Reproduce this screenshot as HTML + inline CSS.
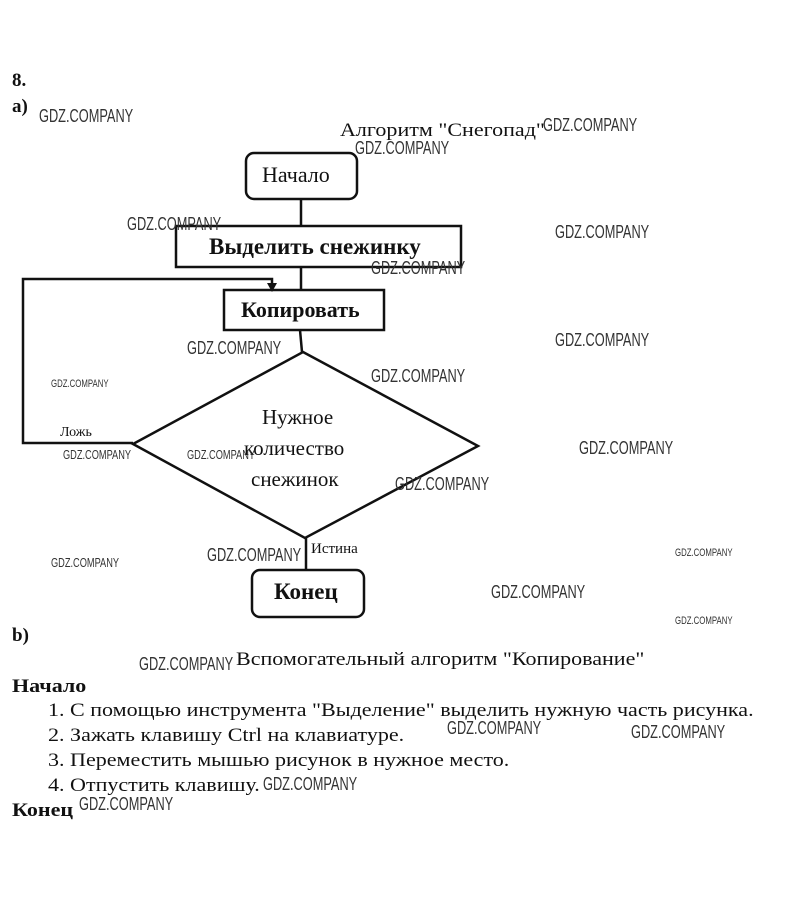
<!DOCTYPE html>
<html><head><meta charset="utf-8"><style>
body{margin:0;width:809px;height:917px;background:#fff;position:relative;overflow:hidden;font-family:"Liberation Serif","Noto Serif CJK SC",serif;color:#111}
.t{position:absolute;white-space:nowrap}
.s{transform:scaleX(1.16);transform-origin:left}
.w{position:absolute;white-space:nowrap;font-family:"Liberation Sans Narrow","Liberation Sans",sans-serif;font-size:18px;color:#333;transform:scaleX(0.71);transform-origin:left}
.ws{font-size:11px}
.b{font-weight:bold}
</style></head><body>
<svg width="809" height="917" style="position:absolute;left:0;top:0">
<g fill="none" stroke="#111" stroke-width="2.5">
<rect x="246" y="153" width="111" height="46" rx="8"/>
<rect x="176" y="226" width="285" height="41"/>
<rect x="224" y="290" width="160" height="40"/>
<rect x="252" y="570" width="112" height="47" rx="8"/>
<polygon points="303,352 478,446 305,538 133,444"/>
<line x1="301" y1="199" x2="301" y2="226"/>
<line x1="301" y1="267" x2="301" y2="290"/>
<line x1="300" y1="330" x2="302" y2="352"/>
<line x1="306" y1="538" x2="306" y2="570"/>
<polyline points="133,443 23,443 23,279 272,279 272,285"/>
</g>
<polygon points="267,283 277,283 272,292" fill="#111"/>
</svg>
<div class="t b" style="left:12px;top:70px;font-size:19px">8.</div>
<div class="t b" style="left:12px;top:96px;font-size:19px">а)</div>
<div class="t s" style="left:340px;top:120px;font-size:19px">Алгоритм "Снегопад"</div>
<div class="t" style="left:262px;top:162px;font-size:22px">Начало</div>
<div class="t b" style="left:209px;top:234px;font-size:23px">Выделить снежинку</div>
<div class="t b" style="left:241px;top:297px;font-size:22px">Копировать</div>
<div class="t" style="left:262px;top:405px;font-size:21px">Нужное</div>
<div class="t" style="left:244px;top:436px;font-size:21px">количество</div>
<div class="t" style="left:251px;top:467px;font-size:21px">снежинок</div>
<div class="t" style="left:60px;top:425px;font-size:14px">Ложь</div>
<div class="t" style="left:311px;top:541px;font-size:15px">Истина</div>
<div class="t b" style="left:274px;top:579px;font-size:23px">Конец</div>
<div class="t b" style="left:12px;top:625px;font-size:19px">b)</div>
<div class="t s" style="left:236px;top:649px;font-size:19px">Вспомогательный алгоритм "Копирование"</div>
<div class="t b s" style="left:12px;top:676px;font-size:19px">Начало</div>
<div class="t s" style="left:48px;top:700px;font-size:19px">1. С помощью инструмента "Выделение" выделить нужную часть рисунка.</div>
<div class="t s" style="left:48px;top:725px;font-size:19px">2. Зажать клавишу Ctrl на клавиатуре.</div>
<div class="t s" style="left:48px;top:750px;font-size:19px">3. Переместить мышью рисунок в нужное место.</div>
<div class="t s" style="left:48px;top:775px;font-size:19px">4. Отпустить клавишу.</div>
<div class="t b s" style="left:12px;top:800px;font-size:19px">Конец</div>
<div class="w" style="left:39px;top:106px">GDZ.COMPANY</div>
<div class="w" style="left:543px;top:115px">GDZ.COMPANY</div>
<div class="w" style="left:355px;top:138px">GDZ.COMPANY</div>
<div class="w" style="left:127px;top:214px">GDZ.COMPANY</div>
<div class="w" style="left:555px;top:222px">GDZ.COMPANY</div>
<div class="w" style="left:371px;top:258px">GDZ.COMPANY</div>
<div class="w" style="left:187px;top:338px">GDZ.COMPANY</div>
<div class="w" style="left:555px;top:330px">GDZ.COMPANY</div>
<div class="w" style="left:371px;top:366px">GDZ.COMPANY</div>
<div class="w ws" style="left:51px;top:378px">GDZ.COMPANY</div>
<div class="w" style="left:579px;top:438px">GDZ.COMPANY</div>
<div class="w ws" style="left:63px;top:447px;font-size:13px">GDZ.COMPANY</div>
<div class="w ws" style="left:187px;top:447px;font-size:13px">GDZ.COMPANY</div>
<div class="w" style="left:395px;top:474px">GDZ.COMPANY</div>
<div class="w" style="left:207px;top:545px">GDZ.COMPANY</div>
<div class="w ws" style="left:51px;top:555px;font-size:13px">GDZ.COMPANY</div>
<div class="w ws" style="left:675px;top:547px">GDZ.COMPANY</div>
<div class="w" style="left:491px;top:582px">GDZ.COMPANY</div>
<div class="w ws" style="left:675px;top:615px">GDZ.COMPANY</div>
<div class="w" style="left:139px;top:654px">GDZ.COMPANY</div>
<div class="w" style="left:447px;top:718px">GDZ.COMPANY</div>
<div class="w" style="left:631px;top:722px">GDZ.COMPANY</div>
<div class="w" style="left:263px;top:774px">GDZ.COMPANY</div>
<div class="w" style="left:79px;top:794px">GDZ.COMPANY</div>
</body></html>
